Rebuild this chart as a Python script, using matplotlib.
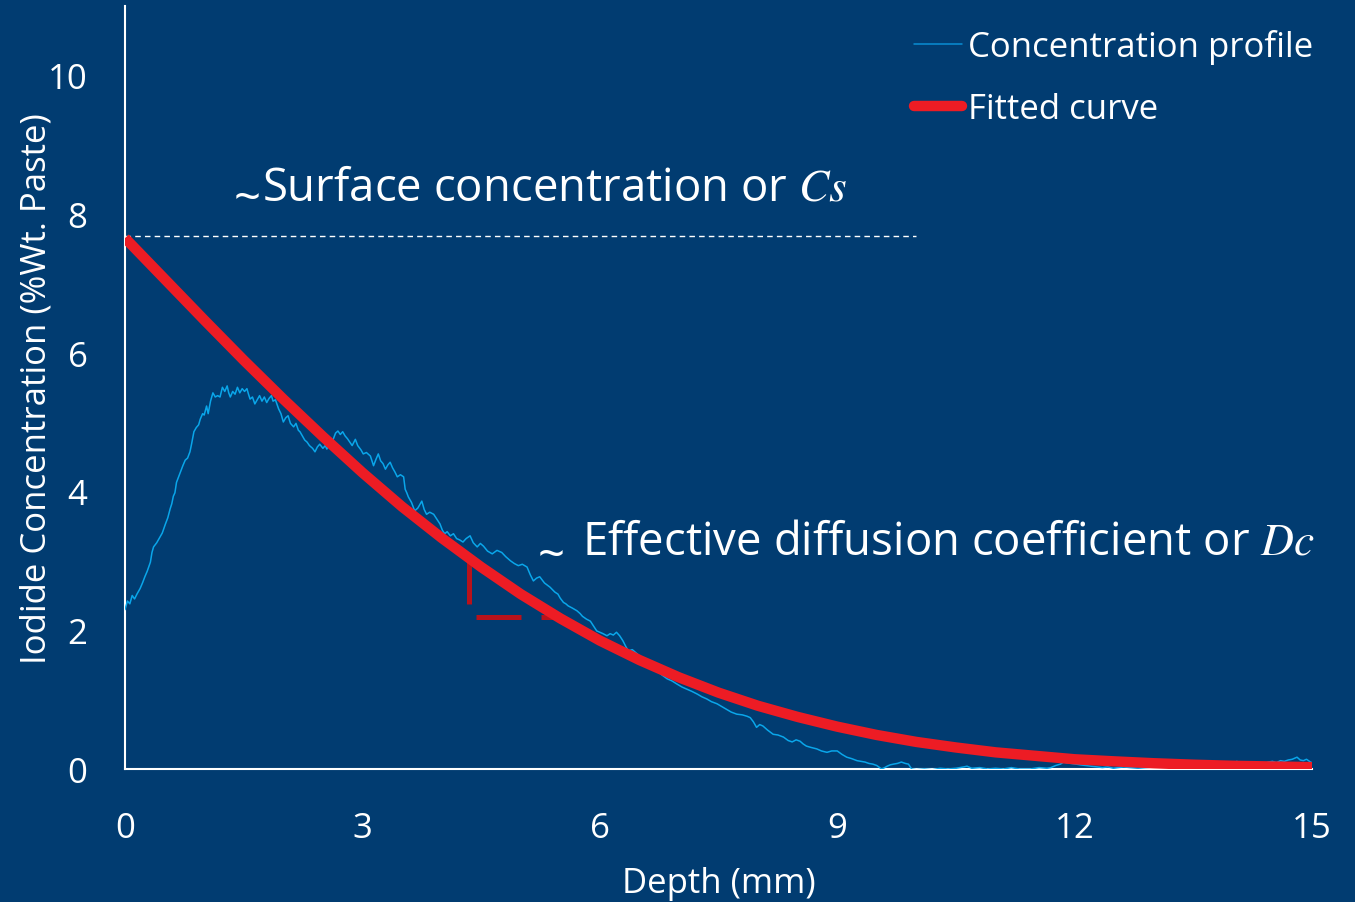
import matplotlib
matplotlib.use('Agg')
import matplotlib.pyplot as plt

# Fonts
plt.rcParams['font.family'] = ['Open Sans', 'DejaVu Sans']
plt.rcParams['mathtext.fontset'] = 'stix'

# Colours
BG = '#013c71'
WHITE = '#ffffff'
PROFILE_BLUE = '#0aa6ea'
FIT_RED = '#ed1c24'
MARK_RED = '#b8121b'

# Measured iodide concentration profile (depth in mm, %wt. paste)
depth_profile = [
    0.00, 0.03, 0.06, 0.09, 0.12, 0.15, 0.19, 0.22, 0.25, 0.28, 0.32, 0.34, 0.36, 0.40,
    0.44, 0.47, 0.51, 0.54, 0.57, 0.59, 0.61, 0.63, 0.65, 0.68, 0.70, 0.73, 0.76, 0.79,
    0.82, 0.84, 0.87, 0.90, 0.93, 0.95, 0.98, 1.00, 1.03, 1.05, 1.08, 1.11, 1.14, 1.17,
    1.20, 1.23, 1.26, 1.29, 1.31, 1.33, 1.36, 1.39, 1.42, 1.45, 1.48, 1.51, 1.54, 1.56,
    1.58, 1.61, 1.64, 1.67, 1.70, 1.73, 1.76, 1.79, 1.82, 1.85, 1.87, 1.90, 1.94, 1.97,
    2.00, 2.03, 2.06, 2.09, 2.13, 2.16, 2.19, 2.21, 2.24, 2.27, 2.30, 2.33, 2.37, 2.40,
    2.43, 2.46, 2.50, 2.53, 2.55, 2.59, 2.63, 2.66, 2.69, 2.72, 2.75, 2.78, 2.81, 2.84,
    2.87, 2.91, 2.94, 2.98, 3.01, 3.05, 3.10, 3.14, 3.17, 3.20, 3.23, 3.26, 3.29, 3.32,
    3.35, 3.38, 3.41, 3.44, 3.48, 3.52, 3.54, 3.56, 3.58, 3.62, 3.66, 3.70, 3.73, 3.75,
    3.78, 3.81, 3.85, 3.90, 3.94, 3.98, 4.01, 4.04, 4.07, 4.11, 4.15, 4.19, 4.23, 4.27,
    4.31, 4.36, 4.40, 4.45, 4.49, 4.53, 4.58, 4.64, 4.70, 4.76, 4.81, 4.87, 4.92, 4.97,
    5.02, 5.08, 5.12, 5.16, 5.20, 5.24, 5.30, 5.37, 5.43, 5.47, 5.50, 5.54, 5.57, 5.60,
    5.65, 5.71, 5.75, 5.78, 5.83, 5.88, 5.92, 5.96, 6.00, 6.04, 6.09, 6.13, 6.17, 6.21,
    6.25, 6.29, 6.33, 6.36, 6.41, 6.47, 6.51, 6.55, 6.60, 6.64, 6.68, 6.73, 6.79, 6.85,
    6.91, 6.98, 7.04, 7.10, 7.16, 7.23, 7.29, 7.35, 7.41, 7.48, 7.54, 7.60, 7.66, 7.73,
    7.80, 7.86, 7.90, 7.94, 7.98, 8.02, 8.06, 8.12, 8.19, 8.25, 8.32, 8.38, 8.43, 8.48,
    8.53, 8.57, 8.61, 8.67, 8.74, 8.80, 8.87, 8.93, 9.00, 9.06, 9.12, 9.18, 9.25, 9.30,
    9.35, 9.40, 9.45, 9.50, 9.56, 9.60, 9.63, 9.67, 9.71, 9.76, 9.81, 9.86, 9.90, 9.94,
    10.00, 10.10, 10.20, 10.30, 10.40, 10.50, 10.60, 10.64, 10.70, 10.80, 10.90, 11.00,
    11.10, 11.20, 11.30, 11.44, 11.55, 11.65, 11.70, 11.76, 11.82, 11.86, 11.90, 11.96,
    12.02, 12.07, 12.14, 12.20, 12.28, 12.35, 12.42, 12.49, 12.55, 12.62, 12.70, 12.80,
    12.90, 13.00, 13.10, 13.20, 13.25, 13.30, 13.40, 13.50, 13.55, 13.70, 13.85, 14.00,
    14.05, 14.10, 14.25, 14.40, 14.45, 14.50, 14.55, 14.60, 14.65, 14.70, 14.75, 14.81,
    14.85, 14.89, 14.93, 14.98, 15.00,
]
conc_profile = [
    2.30, 2.42, 2.38, 2.50, 2.45, 2.52, 2.60, 2.68, 2.77, 2.85, 2.98, 3.12, 3.20, 3.26,
    3.34, 3.40, 3.53, 3.62, 3.75, 3.82, 3.93, 3.98, 4.13, 4.22, 4.28, 4.37, 4.45, 4.48,
    4.57, 4.68, 4.86, 4.92, 4.96, 5.04, 5.12, 5.10, 5.23, 5.12, 5.30, 5.42, 5.36, 5.38,
    5.36, 5.50, 5.44, 5.52, 5.42, 5.36, 5.44, 5.40, 5.50, 5.42, 5.48, 5.44, 5.48, 5.40,
    5.33, 5.36, 5.26, 5.32, 5.38, 5.30, 5.36, 5.28, 5.34, 5.38, 5.30, 5.32, 5.19, 5.12,
    5.00, 5.06, 5.09, 4.98, 4.93, 4.98, 4.88, 4.86, 4.80, 4.74, 4.71, 4.66, 4.62, 4.57,
    4.64, 4.68, 4.62, 4.66, 4.61, 4.70, 4.75, 4.84, 4.87, 4.82, 4.86, 4.80, 4.76, 4.71,
    4.66, 4.75, 4.66, 4.60, 4.54, 4.56, 4.51, 4.37, 4.46, 4.54, 4.44, 4.40, 4.32, 4.38,
    4.42, 4.34, 4.28, 4.21, 4.24, 4.21, 4.03, 3.98, 3.92, 3.84, 3.72, 3.76, 3.82, 3.86,
    3.74, 3.67, 3.70, 3.67, 3.60, 3.53, 3.44, 3.39, 3.42, 3.36, 3.39, 3.32, 3.30, 3.27,
    3.32, 3.36, 3.26, 3.20, 3.25, 3.21, 3.14, 3.10, 3.15, 3.12, 3.06, 3.00, 2.96, 2.93,
    2.95, 2.91, 2.80, 2.71, 2.75, 2.77, 2.68, 2.62, 2.55, 2.52, 2.46, 2.40, 2.38, 2.35,
    2.32, 2.28, 2.24, 2.20, 2.16, 2.13, 2.06, 1.99, 1.97, 1.95, 1.92, 1.95, 1.93, 1.97,
    1.92, 1.85, 1.76, 1.70, 1.72, 1.66, 1.62, 1.59, 1.53, 1.50, 1.44, 1.41, 1.35, 1.30,
    1.27, 1.22, 1.18, 1.15, 1.12, 1.08, 1.04, 1.01, 0.97, 0.94, 0.90, 0.86, 0.82, 0.79,
    0.78, 0.76, 0.74, 0.68, 0.60, 0.64, 0.62, 0.56, 0.50, 0.49, 0.46, 0.41, 0.39, 0.42,
    0.40, 0.36, 0.33, 0.31, 0.29, 0.26, 0.24, 0.26, 0.26, 0.21, 0.17, 0.15, 0.12, 0.11,
    0.10, 0.08, 0.07, 0.05, 0.00, 0.02, 0.04, 0.06, 0.07, 0.08, 0.10, 0.08, 0.07, 0.00,
    -0.01, 0.00, -0.01, 0.01, 0.00, 0.01, 0.03, 0.04, 0.01, 0.02, 0.00, 0.01,
    0.00, 0.02, 0.00, 0.00, 0.02, 0.01, 0.02, 0.05, 0.07, 0.10, 0.09, 0.08,
    0.07, 0.06, 0.05, 0.04, 0.03, 0.02, 0.03, 0.01, 0.02, 0.03, 0.02, 0.01,
    0.02, 0.03, 0.04, 0.05, 0.12, 0.05, 0.05, 0.10, 0.05, 0.05, 0.06, 0.07,
    0.11, 0.07, 0.07, 0.08, 0.10, 0.11, 0.09, 0.12, 0.11, 0.13, 0.14, 0.17,
    0.13, 0.12, 0.14, 0.10, 0.09,
]

# Fitted error-function curve, sampled every 0.5 mm
depth_fit = [0.0, 0.5, 1.0, 1.5, 2.0, 2.5, 3.0, 3.5, 4.0, 4.5, 5.0, 5.5, 6.0, 6.5, 7.0,
             7.5, 8.0, 8.5, 9.0, 9.5, 10.0, 10.5, 11.0, 11.5, 12.0, 12.5, 13.0, 13.5,
             14.0, 14.5, 15.0]
conc_fit = [7.65, 7.06, 6.47, 5.89, 5.33, 4.79, 4.27, 3.78, 3.33, 2.91, 2.52, 2.17, 1.85,
            1.57, 1.32, 1.10, 0.91, 0.75, 0.61, 0.49, 0.39, 0.31, 0.24, 0.19, 0.14, 0.11,
            0.083, 0.062, 0.046, 0.036, 0.027]

# Annotation values
surface_conc = 7.68
surface_line_end = 10.0
slope_x = [4.35, 4.35, 5.45]
slope_y = [3.03, 2.19, 2.19]

x_ticks = [0, 3, 6, 9, 12, 15]
y_ticks = [0, 2, 4, 6, 8, 10]

fig = plt.figure(figsize=(13.55, 9.03), dpi=100, facecolor=BG)
ax = fig.add_axes([0.0923, 0.1473, 0.876, 0.8454], facecolor=BG)

ax.plot(depth_profile, conc_profile, color=PROFILE_BLUE, lw=1.1,
        label='Concentration profile', zorder=3)
ax.plot(depth_fit, conc_fit, color=FIT_RED, lw=7.5, solid_capstyle='butt',
        label='Fitted curve', zorder=4)

# Surface concentration guide line
ax.plot([0, surface_line_end], [surface_conc, surface_conc], color=WHITE, lw=1.0,
        dashes=(4, 3), zorder=2)

# Slope marker under the curve
ax.plot(slope_x, slope_y, color=MARK_RED, lw=3.6, dashes=(9, 4), zorder=3.5,
        solid_joinstyle='miter')

# Text annotations
ax.text(1.54, 8.21, '~', color=WHITE, fontsize=34, ha='center', va='center')
ax.text(1.73, 8.21, 'Surface concentration or $Cs$', color=WHITE, fontsize=32.8,
        ha='left', va='baseline')
ax.text(5.38, 3.06, '~', color=WHITE, fontsize=34, ha='center', va='center')
ax.text(5.78, 3.10, 'Effective diffusion coefficient or $Dc$', color=WHITE, fontsize=32.8,
        ha='left', va='baseline')

ax.set_xlim(0, 15)
ax.set_ylim(0, 11)
ax.set_xticks(x_ticks)
ax.set_yticks(y_ticks)
ax.tick_params(axis='both', length=0, colors=WHITE, labelsize=25)
ax.tick_params(axis='x', pad=30)
ax.tick_params(axis='y', pad=27)

for side in ['top', 'right']:
    ax.spines[side].set_visible(False)
for side in ['left', 'bottom']:
    ax.spines[side].set_color(WHITE)
    ax.spines[side].set_linewidth(1.5)

ax.set_xlabel('Depth (mm)', color=WHITE, fontsize=25)
ax.set_ylabel('Iodide Concentration (%Wt. Paste)', color=WHITE, fontsize=25)
ax.xaxis.set_label_coords(0.5, -0.127)
ax.yaxis.set_label_coords(-0.060, 0.5)

leg = ax.legend(loc='upper right', bbox_to_anchor=(1.027, 1.01), frameon=False,
                fontsize=25, handlelength=1.4, handletextpad=0.15, labelspacing=0.8,
                labelcolor=WHITE)
for line in leg.get_lines():
    line.set_solid_capstyle('round')
leg.get_lines()[0].set_color('#0a8ed3')

fig.savefig('out.png', dpi=100, facecolor=BG)
